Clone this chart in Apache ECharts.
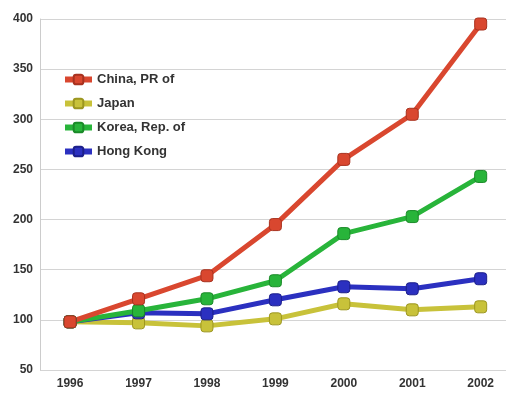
<!DOCTYPE html>
<html lang="en">
<head>
    <meta charset="UTF-8">
    <title>Chart</title>
    <script src="https://cdn.jsdelivr.net/npm/echarts@6/dist/echarts.min.js"></script>
    <style>
        html, body { margin: 0; padding: 0; background: #fff; }
    </style>
</head>
<body>
<div id="main" style="width:506px;height:394px;"></div>
<script>
    var years = [1996, 1997, 1998, 1999, 2000, 2001, 2002];
    var china = [98, 121, 144, 195, 260, 305, 395];
    var japan = [98, 97, 94, 101, 116, 110, 113];
    var korea = [98, 109, 121, 139, 186, 203, 243];
    var hongKong = [98, 107, 106, 120, 133, 131, 141];
    var yTicks = [50, 100, 150, 200, 250, 300, 350, 400];

    function pairs(vals) {
        var out = [];
        for (var i = 0; i < years.length; i++) {
            out.push([years[i], vals[i]]);
        }
        return out;
    }

    function line(name, vals, color, border) {
        return {
            name: name,
            type: 'line',
            data: pairs(vals),
            symbol: 'roundRect',
            symbolSize: 12,
            lineStyle: { width: 5, color: color },
            itemStyle: { color: color, borderColor: border, borderWidth: 1 }
        };
    }

    var chart = echarts.init(document.getElementById('main'));
    chart.setOption({
        animation: false,
        backgroundColor: '#fff',
        grid: { left: 40, right: 0, top: 19, bottom: 24 },
        legend: {
            orient: 'vertical',
            left: 57,
            top: 68,
            itemWidth: 27,
            itemHeight: 12,
            itemGap: 11,
            lineStyle: { width: 6 },
            textStyle: {
                fontFamily: 'Liberation Sans',
                fontWeight: 'bold',
                fontSize: 13,
                color: '#333'
            },
            data: ['China, PR of', 'Japan', 'Korea, Rep. of', 'Hong Kong']
        },
        xAxis: {
            type: 'value',
            min: 1995.56,
            max: 2002.37,
            axisLine: { show: false },
            axisTick: { show: false },
            splitLine: { show: false },
            axisLabel: {
                customValues: years,
                margin: 8,
                fontFamily: 'Liberation Sans',
                fontWeight: 'bold',
                fontSize: 12,
                color: '#333',
                formatter: function (v) { return String(v); }
            }
        },
        yAxis: {
            type: 'value',
            min: yTicks[0],
            max: yTicks[yTicks.length - 1],
            interval: 50,
            axisLine: { show: true, lineStyle: { color: '#ccc', width: 1 } },
            axisTick: { show: false },
            splitLine: { lineStyle: { color: '#d4d4d4', width: 1 } },
            axisLabel: {
                margin: 7,
                fontFamily: 'Liberation Sans',
                fontWeight: 'bold',
                fontSize: 12,
                color: '#333'
            }
        },
        series: [
            line('Japan', japan, '#c8c23a', '#9c9620'),
            line('Hong Kong', hongKong, '#2b30c0', '#1c1f8a'),
            line('Korea, Rep. of', korea, '#28b43a', '#1a8a28'),
            line('China, PR of', china, '#d9472f', '#a8321f')
        ]
    });
</script>
</body>
</html>
